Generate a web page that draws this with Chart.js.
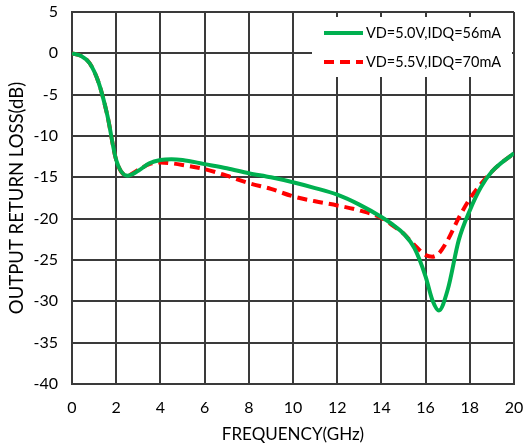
<!DOCTYPE html>
<html>
<head>
<meta charset="utf-8">
<script src="https://cdn.jsdelivr.net/npm/chart.js@4/dist/chart.umd.min.js"></script>
<style>
  html, body { margin: 0; padding: 0; background: #fff; }
  #wrap { width: 525px; height: 448px; }
</style>
</head>
<body>
<div id="wrap"><canvas id="c" width="525" height="448"></canvas></div>
<script>
const freq = [0, 0.4, 0.8, 1.2, 1.6, 2.0, 2.5, 3, 3.5, 4, 4.5, 5, 6, 7, 8, 9, 10, 11, 12, 13, 14, 14.5, 15, 15.5, 16, 16.3, 16.6, 17, 17.5, 18, 18.5, 19, 19.5, 20];
const lossA = [0, -0.3, -1.2, -3.5, -7.5, -12.9, -14.8, -14.2, -13.3, -12.9, -12.8, -12.9, -13.4, -13.9, -14.5, -15.0, -15.6, -16.3, -17.1, -18.3, -19.8, -20.7, -21.8, -23.6, -27.0, -29.8, -31.1, -28.6, -22.6, -19.0, -16.2, -14.3, -13.1, -12.1];
const lossB = [0, -0.3, -1.2, -3.5, -7.5, -12.9, -14.8, -14.1, -13.4, -13.2, -13.3, -13.5, -14.0, -14.8, -15.7, -16.4, -17.3, -17.9, -18.4, -19.0, -19.9, -20.8, -21.8, -23.2, -24.4, -24.6, -24.2, -22.6, -19.9, -17.6, -15.8, -14.3, -13.1, -12.1];
const seriesLabels = ['VD=5.0V,IDQ=56mA', 'VD=5.5V,IDQ=70mA'];
const xTicks = [0, 2, 4, 6, 8, 10, 12, 14, 16, 18, 20];
const yTicks = [5, 0, -5, -10, -15, -20, -25, -30, -35, -40];

const FONT = 'Lato, "Open Sans", sans-serif';
const gridColor = '#3a3a3a';

const legendPlugin = {
  id: 'boxLegend',
  afterDatasetsDraw(chart) {
    const ctx = chart.ctx;
    const a = chart.chartArea;
    const x0 = a.right - 202, y0 = a.top + 5, w = 200, h = 60;
    ctx.save();
    ctx.fillStyle = '#fff';
    ctx.fillRect(x0, y0, w, h);
    chart.data.datasets.forEach((ds, i) => {
      const y = y0 + 16 + i * 29;
      ctx.beginPath();
      ctx.strokeStyle = ds.borderColor;
      ctx.lineWidth = ds.borderWidth;
      ctx.setLineDash(ds.borderDash || []);
      ctx.moveTo(x0 + 12, y);
      ctx.lineTo(x0 + 51, y);
      ctx.stroke();
      ctx.setLineDash([]);
      ctx.fillStyle = '#000';
      ctx.font = '14.5px ' + FONT;
      ctx.textBaseline = 'middle';
      ctx.textAlign = 'left';
      ctx.fillText(ds.label, x0 + 54, y);
    });
    ctx.restore();
  }
};

new Chart(document.getElementById('c'), {
  type: 'line',
  data: {
    datasets: [
      {
        label: seriesLabels[0],
        data: freq.map((f, i) => ({ x: f, y: lossA[i] })),
        borderColor: '#00B050',
        borderWidth: 4,
        pointRadius: 0,
        cubicInterpolationMode: 'monotone',
        fill: false
      },
      {
        label: seriesLabels[1],
        data: freq.map((f, i) => ({ x: f, y: lossB[i] })),
        borderColor: '#FF0000',
        borderWidth: 4,
        borderDash: [10, 6],
        pointRadius: 0,
        cubicInterpolationMode: 'monotone',
        fill: false
      }
    ]
  },
  options: {
    responsive: false,
    animation: false,
    events: [],
    layout: { padding: { top: 12, right: 11, left: 0, bottom: 0 } },
    plugins: { legend: { display: false }, tooltip: { enabled: false } },
    scales: {
      x: {
        type: 'linear',
        min: 0, max: 20,
        afterBuildTicks: s => { s.ticks = xTicks.map(v => ({ value: v })); },
        afterFit: s => { s.height = 64; s.paddingLeft = 0; s.paddingRight = 0; },
        grid: { color: gridColor, lineWidth: 2, drawTicks: false },
        border: { color: gridColor, width: 2 },
        ticks: { color: '#000', font: { family: FONT, size: 16 }, padding: 14, maxRotation: 0 },
        title: { display: true, text: 'FREQUENCY(GHz)', color: '#000', font: { family: FONT, size: 17 }, padding: { top: 4, bottom: 3 } }
      },
      y: {
        type: 'linear',
        min: -40, max: 5,
        afterBuildTicks: s => { s.ticks = yTicks.map(v => ({ value: v })); },
        afterFit: s => { s.width = 72; s.paddingTop = 0; s.paddingBottom = 0; },
        grid: { color: gridColor, lineWidth: 2, drawTicks: false },
        border: { color: gridColor, width: 2 },
        ticks: { color: '#000', font: { family: FONT, size: 16 }, padding: 14 },
        title: { display: true, text: 'OUTPUT RETURN LOSS(dB)', color: '#000', font: { family: FONT, size: 18.5 }, padding: { top: 6, bottom: 0 } }
      }
    }
  },
  plugins: [legendPlugin]
});
</script>
</body>
</html>
